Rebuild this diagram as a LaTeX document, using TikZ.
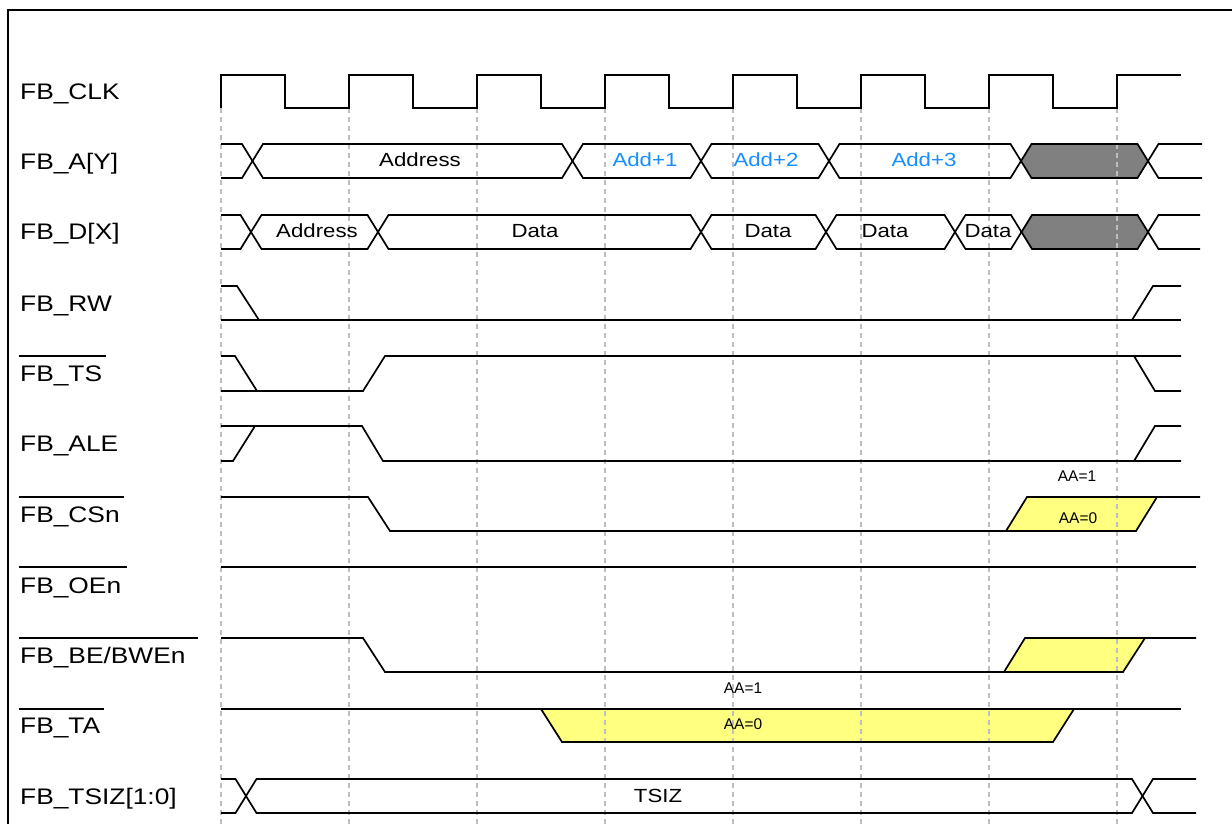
\documentclass[tikz,border=0pt]{standalone}
\usepackage{fontspec}
\setmainfont{Liberation Sans}
\definecolor{addblue}{RGB}{24,142,255}
\definecolor{hiyel}{RGB}{255,255,128}
\definecolor{busgray}{RGB}{128,128,128}
\definecolor{gridgray}{RGB}{190,190,190}
\newcommand\wide[1]{\scalebox{1.17}[1]{#1}}
\begin{document}
\begin{tikzpicture}[x=1pt,y=-1pt,
  sig/.style={line width=1.7pt, line join=miter, line cap=butt},
  gridline/.style={draw=gridgray, line width=1.3pt, dash pattern=on 5pt off 4pt},
  lbl/.style={anchor=base west, inner xsep=1.5pt, inner ysep=0pt, font=\fontsize{22.5}{26}\selectfont},
  ovl/.style={line width=1.4pt},
  bustext/.style={inner sep=0pt, font=\fontsize{19}{22}\selectfont},
  addtext/.style={bustext, text=addblue},
  aatext/.style={inner sep=0pt, font=\fontsize{15.5}{18}\selectfont},
  grayfill/.style={fill=busgray},
  yelfill/.style={fill=hiyel},
]
\useasboundingbox (0,0) rectangle (1232,824);
\fill[white] (0,0) rectangle (1232,824);
% frame
\draw[line width=1.4pt] (8,824) -- (8,10) -- (1232,10);

% ---- fills ----
\fill[grayfill] (1021,161) -- (1031.5,144) -- (1137.5,144) -- (1148,161) -- (1137.5,178) -- (1031.5,178) -- cycle;
\fill[grayfill] (1021.5,232) -- (1032,215) -- (1137.5,215) -- (1148,232) -- (1137.5,249) -- (1032,249) -- cycle;
\fill[yelfill] (1006,531) -- (1027,497) -- (1157,497) -- (1136,531) -- cycle;
\fill[yelfill] (1004,672) -- (1025,638) -- (1145,638) -- (1123,672) -- cycle;
\fill[yelfill] (541,709) -- (562,742) -- (1053,742) -- (1074,709) -- cycle;

% ---- clock-edge grid ----
\foreach \x in {221,349,477,605,733,861,989,1117}
  \draw[gridline] (\x,108) -- (\x,824);

% ---- labels ----
\node[lbl] (lCLK)  at (18.5,100) {\wide{FB\_CLK}};
\node[lbl] (lA)    at (18.5,169) {\wide{FB\_A[Y]}};
\node[lbl] (lD)    at (18.5,239) {\wide{FB\_D[X]}};
\node[lbl] (lRW)   at (18.5,311) {\wide{FB\_RW}};
\node[lbl] (lTS)   at (18.5,381) {\wide{FB\_TS}};
\node[lbl] (lALE)  at (18.5,451) {\wide{FB\_ALE}};
\node[lbl] (lCS)   at (18.5,522) {\wide{FB\_CSn}};
\node[lbl] (lOE)   at (18.5,593) {\wide{FB\_OEn}};
\node[lbl] (lBE)   at (18.5,663) {\wide{FB\_BE/BWEn}};
\node[lbl] (lTA)   at (18.5,733) {\wide{FB\_TA}};
\node[lbl] (lTSIZ) at (18.5,804) {\wide{FB\_TSIZ[1:0]}};

% overlines (active-low)
\coordinate (hTS) at (0,356);
\coordinate (hCS) at (0,497);
\coordinate (hOE) at (0,567);
\coordinate (hBE) at (0,638);
\coordinate (hTA) at (0,709);
\draw[ovl] (lTS.west |- hTS) -- ([xshift=2pt]lTS.east |- hTS);
\draw[ovl] (lCS.west |- hCS) -- ([xshift=3pt]lCS.east |- hCS);
\draw[ovl] (lOE.west |- hOE) -- ([xshift=4pt]lOE.east |- hOE);
\draw[ovl] (lBE.west |- hBE) -- ([xshift=11pt]lBE.east |- hBE);
\draw[ovl] (lTA.west |- hTA) -- ([xshift=2pt]lTA.east |- hTA);

% ---- FB_CLK ----
\draw[sig] (221,108) -- (221,75) -- (285,75) -- (285,108) -- (349,108) -- (349,75)
  -- (413,75) -- (413,108) -- (477,108) -- (477,75) -- (541,75) -- (541,108)
  -- (605,108) -- (605,75) -- (669,75) -- (669,108) -- (733,108) -- (733,75)
  -- (797,75) -- (797,108) -- (861,108) -- (861,75) -- (925,75) -- (925,108)
  -- (989,108) -- (989,75) -- (1053,75) -- (1053,108) -- (1117,108) -- (1117,75)
  -- (1181,75);

% ---- FB_A[Y] ----
\draw[sig] (221,144) -- (242,144) -- (263,178) -- (562,178) -- (583,144) -- (690.5,144)
  -- (711.5,178) -- (818.5,178) -- (839.5,144) -- (1010.5,144) -- (1031.5,178)
  -- (1137.5,178) -- (1158.5,144) -- (1202,144);
\draw[sig] (221,178) -- (242,178) -- (263,144) -- (562,144) -- (583,178) -- (690.5,178)
  -- (711.5,144) -- (818.5,144) -- (839.5,178) -- (1010.5,178) -- (1031.5,144)
  -- (1137.5,144) -- (1158.5,178) -- (1202,178);
\node[bustext] (tAaddr) at (420,160) {\wide{Address}};
\node[addtext] (tA1) at (645,160) {\wide{Add+1}};
\node[addtext] (tA2) at (766,160) {\wide{Add+2}};
\node[addtext] (tA3) at (924,160) {\wide{Add+3}};

% ---- FB_D[X] ----
\draw[sig] (221,215) -- (240.5,215) -- (261.5,249) -- (367.5,249) -- (388.5,215) -- (690.5,215)
  -- (711.5,249) -- (815.5,249) -- (836.5,215) -- (944.5,215) -- (965.5,249) -- (1011,249)
  -- (1032,215) -- (1137.5,215) -- (1158.5,249) -- (1200,249);
\draw[sig] (221,249) -- (240.5,249) -- (261.5,215) -- (367.5,215) -- (388.5,249) -- (690.5,249)
  -- (711.5,215) -- (815.5,215) -- (836.5,249) -- (944.5,249) -- (965.5,215) -- (1011,215)
  -- (1032,249) -- (1137.5,249) -- (1158.5,215) -- (1200,215);
\node[bustext] (tDaddr) at (317,231) {\wide{Address}};
\node[bustext] (tD1) at (535,231) {\wide{Data}};
\node[bustext] (tD2) at (768,231) {\wide{Data}};
\node[bustext] (tD3) at (885,231) {\wide{Data}};
\node[bustext] (tD4) at (988,231) {\wide{Data}};

% ---- FB_RW ----
\draw[sig] (221,286) -- (237,286) -- (259,320);
\draw[sig] (221,320) -- (1181,320);
\draw[sig] (1132,320) -- (1153,286) -- (1181,286);

% ---- FB_TS ----
\draw[sig] (221,356) -- (235,356) -- (257,391);
\draw[sig] (221,391) -- (363,391) -- (385,356) -- (1181,356);
\draw[sig] (1134,356) -- (1155,391) -- (1181,391);

% ---- FB_ALE ----
\draw[sig] (221,461) -- (233,461) -- (255,426);
\draw[sig] (221,426) -- (362,426) -- (383,461) -- (1181,461);
\draw[sig] (1134,461) -- (1155,426) -- (1181,426);

% ---- FB_CSn ----
\draw[sig] (221,497) -- (368,497) -- (390,531) -- (1136,531) -- (1157,497);
\draw[sig] (1006,531) -- (1027,497) -- (1200,497);
\node[aatext] (tCS1) at (1077,476) {AA=1};
\node[aatext] (tCS0) at (1078,518) {AA=0};

% ---- FB_OEn ----
\draw[sig] (221,567) -- (1196,567);

% ---- FB_BE/BWEn ----
\draw[sig] (221,638) -- (363,638) -- (385,672) -- (1123,672) -- (1145,638);
\draw[sig] (1004,672) -- (1025,638) -- (1196,638);

% ---- FB_TA ----
\draw[sig] (221,709) -- (1181,709);
\draw[sig] (541,709) -- (562,742) -- (1053,742) -- (1074,709);
\node[aatext] (tTA1) at (743,688) {AA=1};
\node[aatext] (tTA0) at (743,724) {AA=0};

% ---- FB_TSIZ[1:0] ----
\draw[sig] (221,779) -- (235.5,779) -- (256.5,813) -- (1132,813) -- (1153,779) -- (1196,779);
\draw[sig] (221,813) -- (235.5,813) -- (256.5,779) -- (1132,779) -- (1153,813) -- (1196,813);
\node[bustext] (tTSIZ) at (658,796) {\wide{TSIZ}};
\end{tikzpicture}
\end{document}
